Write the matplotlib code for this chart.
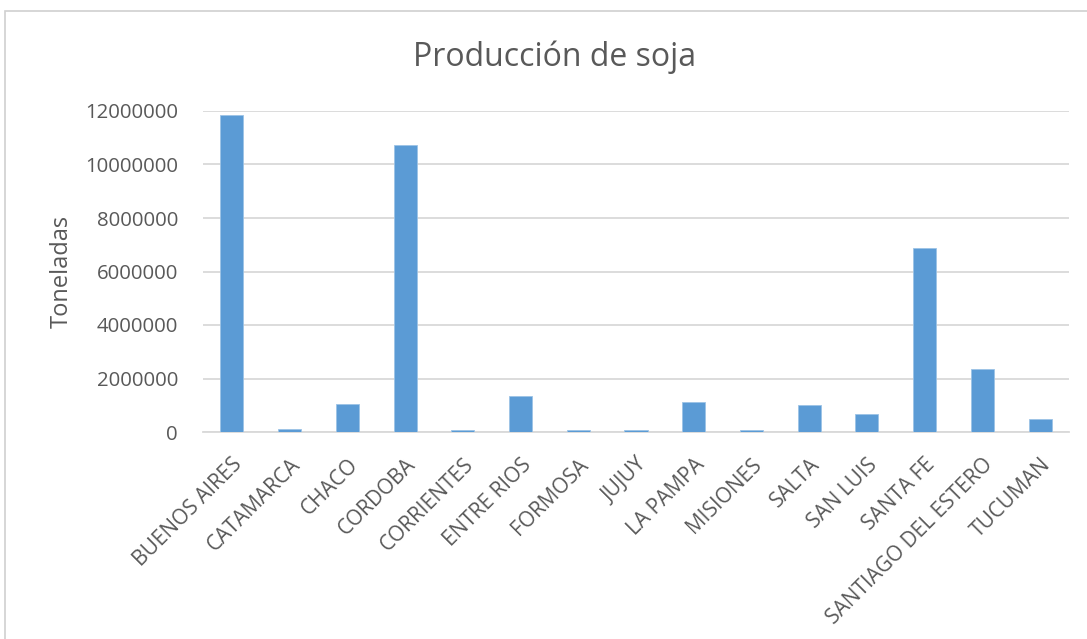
import matplotlib
matplotlib.use("Agg")
import matplotlib.pyplot as plt
from matplotlib.patches import Rectangle

# Producción de soja por provincia (toneladas)
PROVINCIAS = [
    "BUENOS AIRES", "CATAMARCA", "CHACO", "CORDOBA", "CORRIENTES",
    "ENTRE RIOS", "FORMOSA", "JUJUY", "LA PAMPA", "MISIONES",
    "SALTA", "SAN LUIS", "SANTA FE", "SANTIAGO DEL ESTERO", "TUCUMAN",
]
TONELADAS = [
    11840000, 100000, 1060000, 10740000, 60000,
    1360000, 60000, 60000, 1110000, 60000,
    1020000, 690000, 6860000, 2360000, 490000,
]
Y_TICKS = [0, 2000000, 4000000, 6000000, 8000000, 10000000, 12000000]

TEXT_COLOR = "#595959"
BAR_COLOR = "#5b9bd5"
GRID_COLOR = "#d9d9d9"

plt.rcParams["font.family"] = ["Open Sans", "DejaVu Sans"]

W, H = 1087, 639
fig = plt.figure(figsize=(W / 100, H / 100), dpi=100)

# chart frame
fig.patches.append(Rectangle((5 / W, -0.01), 1.02, 1 - 11 / H + 0.01,
                             transform=fig.transFigure, fill=False,
                             edgecolor="#d0d0d0", linewidth=1.2))

ax = fig.add_axes([203 / W, 1 - 432 / H, (1069 - 203) / W, (432 - 111) / H])
x = range(len(PROVINCIAS))
ax.bar(x, TONELADAS, width=0.4, color=BAR_COLOR, edgecolor="#9cc3e6",
       linewidth=0.6, zorder=3)

ax.set_xlim(-0.5, len(PROVINCIAS) - 0.5)
ax.set_ylim(0, 12000000)
ax.set_yticks(Y_TICKS)
ax.set_yticklabels([str(v) for v in Y_TICKS], fontsize=14.7, color=TEXT_COLOR)
ax.set_xticks(list(x))
ax.set_xticklabels(PROVINCIAS, rotation=45, ha="right", rotation_mode="anchor",
                   fontsize=15, color=TEXT_COLOR)
ax.tick_params(axis="both", length=0)
ax.tick_params(axis="y", pad=18)
ax.tick_params(axis="x", pad=16)

ax.grid(axis="y", color=GRID_COLOR, linewidth=1.3, zorder=0)
for side in ["top", "right", "left"]:
    ax.spines[side].set_visible(False)
ax.spines["bottom"].set_color(GRID_COLOR)
ax.spines["bottom"].set_linewidth(1.3)

fig.text(555 / W, 1 - 57 / H, "Producción de soja", ha="center", va="center",
         fontsize=23, color=TEXT_COLOR)
fig.text(62 / W, 1 - 271 / H, "Toneladas", ha="center", va="center",
         rotation=90, fontsize=17, color=TEXT_COLOR)

fig.savefig("out.png", dpi=100, facecolor="white")
